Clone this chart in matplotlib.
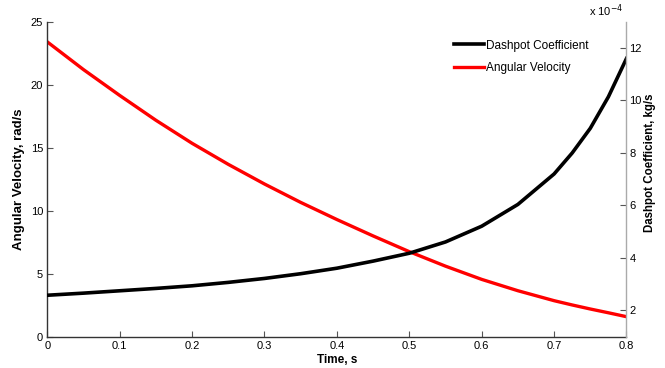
import matplotlib
matplotlib.use("Agg")
import matplotlib.pyplot as plt

plt.rcParams['font.family'] = ['Liberation Sans', 'DejaVu Sans']

time_s = [0.0, 0.05, 0.1, 0.15, 0.2, 0.25, 0.3, 0.35, 0.4, 0.45, 0.5, 0.55, 0.6, 0.65, 0.7, 0.725, 0.75, 0.775, 0.8]
angular_velocity = [23.4, 21.2, 19.15, 17.18, 15.35, 13.68, 12.12, 10.66, 9.3, 8.0, 6.75, 5.6, 4.55, 3.65, 2.86, 2.52, 2.2, 1.9, 1.59]
dashpot_coeff = [2.58, 2.66, 2.75, 2.84, 2.94, 3.07, 3.22, 3.40, 3.61, 3.88, 4.18, 4.61, 5.21, 6.04, 7.2, 8.0, 8.94, 10.14, 11.6]  # x 1e-4

x_ticks = [0, 0.1, 0.2, 0.3, 0.4, 0.5, 0.6, 0.7, 0.8]
x_ticklabels = ['0', '0.1', '0.2', '0.3', '0.4', '0.5', '0.6', '0.7', '0.8']
left_ticks = [0, 5, 10, 15, 20, 25]
right_ticks = [2, 4, 6, 8, 10, 12]

fig = plt.figure(figsize=(6.65, 3.68), dpi=100)
ax = fig.add_axes([0.0711, 0.085, 0.8710, 0.856])
ax2 = ax.twinx()

l_red, = ax.plot(time_s, angular_velocity, color='#ff0000', lw=2.4, label='Angular Velocity')
l_blk, = ax2.plot(time_s, dashpot_coeff, color='black', lw=2.6, label='Dashpot Coefficient')

ax.set_xlim(0, 0.8)
ax.set_ylim(0, 25)
ax2.set_ylim(1, 13)

ax.set_xticks(x_ticks)
ax.set_xticklabels(x_ticklabels)
ax.set_yticks(left_ticks)
ax2.set_yticks(right_ticks)

for a in (ax, ax2):
    a.spines['top'].set_visible(False)
ax.spines['right'].set_visible(False)
ax2.spines['left'].set_visible(False)
ax2.spines['bottom'].set_visible(False)
ax.spines['left'].set_color('#333333')
ax.spines['bottom'].set_color('#333333')
ax2.spines['right'].set_color('#aaaaaa')
for s in ('left', 'bottom'):
    ax.spines[s].set_linewidth(1.0)
ax2.spines['right'].set_linewidth(1.0)

ax.tick_params(axis='both', direction='in', length=4, labelsize=8, pad=3, color='#555555')
ax2.tick_params(axis='y', direction='in', length=4, labelsize=8, pad=2, color='#555555')

ax.set_xlabel('Time, s', fontsize=8.5, fontweight='bold', labelpad=2)
ax.set_ylabel('Angular Velocity, rad/s', fontsize=9.5, fontweight='bold', labelpad=4)
ax2.set_ylabel('Dashpot Coefficient, kg/s', fontsize=8.3, fontweight='bold')
ax2.yaxis.set_label_coords(1.031, 0.551)

ax2.text(0.995, 1.01, 'x 10$^{-4}$', transform=ax2.transAxes, ha='right', va='bottom', fontsize=8)

leg = ax2.legend(handles=[l_blk, l_red], loc='upper left', bbox_to_anchor=(0.684, 0.977),
                 frameon=False, fontsize=8.5, handlelength=2.5, handletextpad=0.2, labelspacing=0.9)

fig.savefig('out.png', dpi=100)
